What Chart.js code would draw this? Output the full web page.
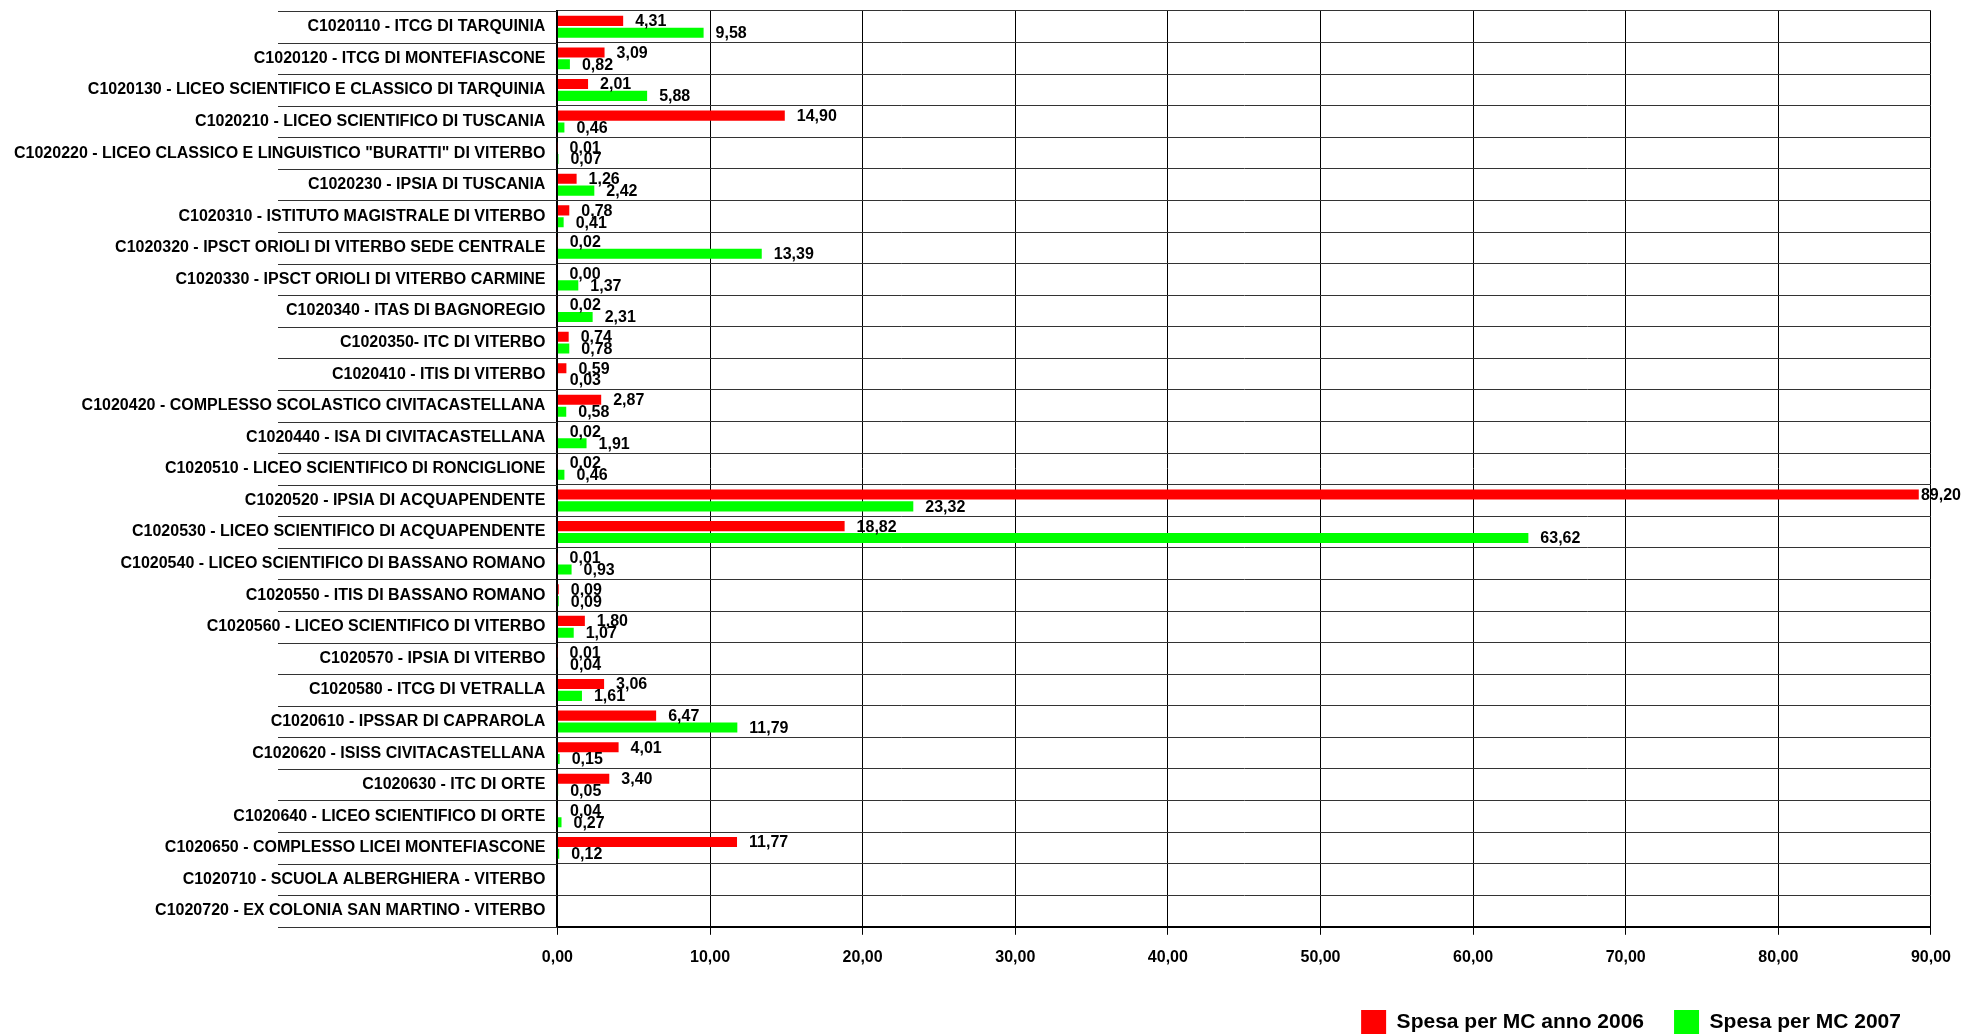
<!DOCTYPE html>
<html lang="it">
<head>
<meta charset="UTF-8" />
<title>Spesa per MC 2006 - 2007</title>
<script src="https://cdn.jsdelivr.net/npm/chart.js@4.4.0/dist/chart.umd.min.js"></script>
<style>
  body { margin: 0; background: #fff; }
</style>
</head>
<body>
<canvas id="chart" width="1964" height="1034"></canvas>

<script>
const schools = [
    'C1020110 - ITCG DI TARQUINIA',
    'C1020120 - ITCG DI MONTEFIASCONE',
    'C1020130 - LICEO SCIENTIFICO E CLASSICO DI TARQUINIA',
    'C1020210 - LICEO SCIENTIFICO DI TUSCANIA',
    'C1020220 - LICEO CLASSICO E LINGUISTICO "BURATTI" DI VITERBO',
    'C1020230 - IPSIA DI TUSCANIA',
    'C1020310 - ISTITUTO MAGISTRALE DI VITERBO',
    'C1020320 - IPSCT ORIOLI DI VITERBO SEDE CENTRALE',
    'C1020330 - IPSCT ORIOLI DI VITERBO CARMINE',
    'C1020340 - ITAS DI BAGNOREGIO',
    'C1020350- ITC DI VITERBO',
    'C1020410 - ITIS DI VITERBO',
    'C1020420 - COMPLESSO SCOLASTICO CIVITACASTELLANA',
    'C1020440 - ISA DI CIVITACASTELLANA',
    'C1020510 - LICEO SCIENTIFICO DI RONCIGLIONE',
    'C1020520 - IPSIA DI ACQUAPENDENTE',
    'C1020530 - LICEO SCIENTIFICO DI ACQUAPENDENTE',
    'C1020540 - LICEO SCIENTIFICO DI BASSANO ROMANO',
    'C1020550 - ITIS DI BASSANO ROMANO',
    'C1020560 - LICEO SCIENTIFICO DI VITERBO',
    'C1020570 - IPSIA DI VITERBO',
    'C1020580 - ITCG DI VETRALLA',
    'C1020610 - IPSSAR DI CAPRAROLA',
    'C1020620 - ISISS CIVITACASTELLANA',
    'C1020630 - ITC DI ORTE',
    'C1020640 - LICEO SCIENTIFICO DI ORTE',
    'C1020650 - COMPLESSO LICEI MONTEFIASCONE',
    'C1020710 - SCUOLA ALBERGHIERA - VITERBO',
    'C1020720 - EX COLONIA SAN MARTINO - VITERBO'
];

const spesa2006 = [4.31, 3.09, 2.01, 14.90, 0.01, 1.26, 0.78, 0.02, 0.00, 0.02,
    0.74, 0.59, 2.87, 0.02, 0.02, 89.20, 18.82, 0.01, 0.09, 1.80,
    0.01, 3.06, 6.47, 4.01, 3.40, 0.04, 11.77, null, null];

const spesa2007 = [9.58, 0.82, 5.88, 0.46, 0.07, 2.42, 0.41, 13.39, 1.37, 2.31,
    0.78, 0.03, 0.58, 1.91, 0.46, 23.32, 63.62, 0.93, 0.09, 1.07,
    0.04, 1.61, 11.79, 0.15, 0.05, 0.27, 0.12, null, null];

const seriesNames = ['Spesa per MC anno 2006', 'Spesa per MC 2007'];
const xMax = 90;
const xStep = 10;

const FONT = '"Liberation Sans", Arial, sans-serif';
const fmt = v => v.toFixed(2).replace('.', ',');

// numbers next to the bars
const valueLabels = {
    id: 'valueLabels',
    afterDatasetsDraw(chart) {
        const ctx = chart.ctx;
        ctx.save();
        ctx.font = 'bold 16px ' + FONT;
        ctx.fillStyle = '#000';
        ctx.textBaseline = 'middle';
        ctx.textAlign = 'left';
        chart.data.datasets.forEach((ds, di) => {
            chart.getDatasetMeta(di).data.forEach((bar, i) => {
                const v = ds.data[i];
                if (v === null || v === undefined) return;
                const txt = fmt(v);
                const w = ctx.measureText(txt).width;
                const x = Math.min(bar.x + 12, chart.width - w - 3);
                ctx.fillText(txt, x, bar.y + 1);
            });
        });
        ctx.restore();
    }
};

// row rules continuing under the school names
const ruleStart = 278;
const labelRules = {
    id: 'labelRules',
    beforeDatasetsDraw(chart) {
        const y = chart.scales.y;
        const ctx = chart.ctx;
        ctx.save();
        ctx.strokeStyle = '#333';
        ctx.lineWidth = 1;
        for (let i = 0; i <= schools.length; i++) {
            const py = Math.round(y.getPixelForValue(i - 0.5)) + 0.5;
            ctx.beginPath();
            ctx.moveTo(ruleStart, py);
            ctx.lineTo(chart.chartArea.left, py);
            ctx.stroke();
        }
        ctx.restore();
    }
};

Chart.defaults.font.family = FONT;
Chart.defaults.font.weight = 'bold';
Chart.defaults.color = '#000';

const ctx = document.getElementById('chart').getContext('2d');
const myChart = new Chart(ctx, {
    type: 'bar',
    data: {
        labels: schools,
        datasets: [{
            label: seriesNames[0],
            data: spesa2006,
            backgroundColor: '#ff0000',
            borderWidth: 0,
            categoryPercentage: 0.75,
            barPercentage: 0.85
        }, {
            label: seriesNames[1],
            data: spesa2007,
            backgroundColor: '#00ff00',
            borderWidth: 0,
            categoryPercentage: 0.75,
            barPercentage: 0.85
        }]
    },
    options: {
        indexAxis: 'y',
        responsive: false,
        animation: false,
        layout: { padding: { left: 2, right: 0, top: 11, bottom: -11 } },
        scales: {
            x: {
                min: 0,
                max: xMax,
                ticks: {
                    stepSize: xStep,
                    padding: 13,
                    font: { size: 16, weight: 'bold' },
                    color: '#000',
                    callback: v => fmt(v)
                },
                grid: { color: '#000', lineWidth: 1, tickLength: 8 },
                border: { color: '#000', width: 2 }
            },
            y: {
                afterFit(scale) {
                    // rows are offset, no room needed above the first label
                    scale.paddingTop = 0;
                    scale.paddingBottom = 0;
                },
                ticks: {
                    autoSkip: false,
                    padding: 12,
                    font: { size: 16, weight: 'bold' },
                    color: '#000'
                },
                grid: { color: '#333', lineWidth: 1, drawTicks: false, offset: true },
                border: { color: '#000', width: 2 }
            }
        },
        plugins: {
            tooltip: { enabled: false },
            legend: {
                position: 'bottom',
                align: 'end',
                fullSize: false,
                labels: {
                    boxWidth: 25,
                    boxHeight: 25,
                    padding: 30,
                    color: '#000',
                    font: { size: 21, weight: 'bold' }
                }
            }
        }
    },
    plugins: [labelRules, valueLabels]
});
</script>
</body>
</html>
